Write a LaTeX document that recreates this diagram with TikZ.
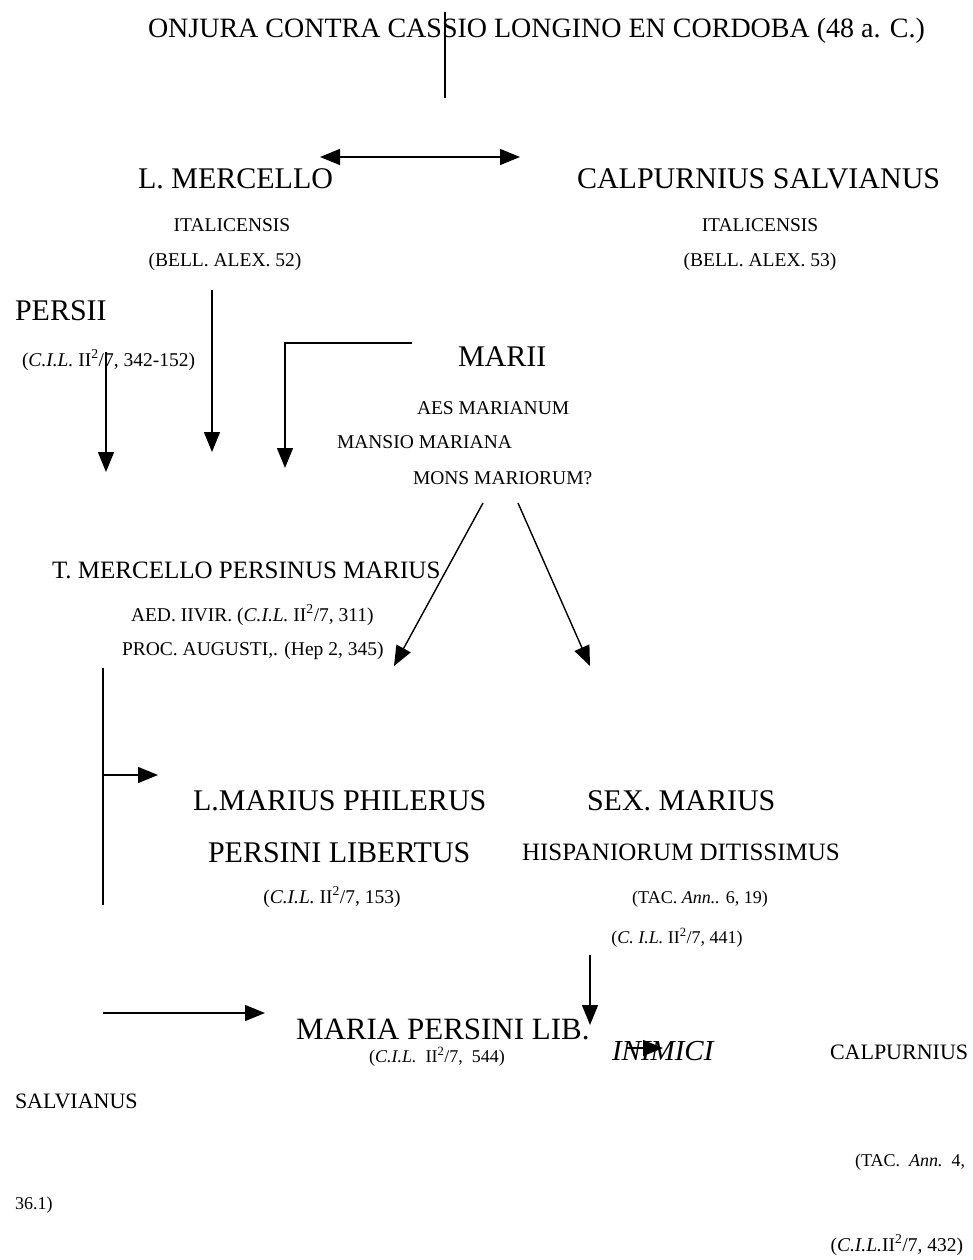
\documentclass[tikz,border=0pt]{standalone}
\usepackage{fontspec}
\setmainfont{Liberation Serif}
\usetikzlibrary{arrows.meta}
\newcommand{\cil}{\textit{C.I.L.}}
\newcommand{\sq}{\textsuperscript{2}}
\tikzset{
  txt/.style={inner sep=0pt, outer sep=0pt, anchor=base west},
  ctxt/.style={inner sep=0pt, outer sep=0pt, anchor=base},
  rtxt/.style={inner sep=0pt, outer sep=0pt, anchor=base east},
  big/.style={font=\fontsize{30}{36}\selectfont},
  ttl/.style={font=\fontsize{28}{34}\selectfont},
  mid/.style={font=\fontsize{25}{30}\selectfont},
  lab/.style={font=\fontsize{22}{27}\selectfont},
  sml/.style={font=\fontsize{19.5}{23}\selectfont},
  smll/.style={font=\fontsize{18}{22}\selectfont},
  conn/.style={line width=1.4pt},
  arr/.style={line width=1.4pt, -{Triangle[length=20pt,width=16pt]}},
  darr/.style={line width=1.4pt, {Triangle[length=20pt,width=16pt]}-{Triangle[length=20pt,width=16pt]}},
}
\begin{document}
\begin{tikzpicture}[x=1pt,y=-1pt]
\useasboundingbox (0,0) rectangle (973,1260);
% texts
\node[txt,ttl] (title) at (148,38) {ONJURA CONTRA CASSIO LONGINO EN CORDOBA (48 a. C.)};
\node[txt,big] (lmer) at (138,189) {L. MERCELLO};
\node[txt,big] (calp) at (577,189) {CALPURNIUS SALVIANUS};
\node[ctxt,sml] (ital1) at (232,231) {ITALICENSIS};
\node[ctxt,sml] (bell1) at (225,266) {(BELL. ALEX. 52)};
\node[ctxt,sml] (ital2) at (760,231) {ITALICENSIS};
\node[ctxt,sml] (bell2) at (760,266) {(BELL. ALEX. 53)};
\node[txt,big] (persii) at (15,320) {PERSII};
\node[txt,sml] (cilp) at (22,366) {(\cil{} II\sq/7, 342-152)};
\node[txt,big] (marii) at (458,366) {MARII};
\node[txt,sml] (aes) at (417,414) {AES MARIANUM};
\node[txt,sml] (mansio) at (337,448) {MANSIO MARIANA};
\node[txt,sml] (mons) at (413,484) {MONS MARIORUM?};
\node[txt,mid] (tmer) at (52,578) {T. MERCELLO PERSINUS MARIUS};
\node[txt,sml] (aed) at (131,621) {AED. IIVIR. (\cil{} II\sq/7, 311)};
\node[txt,sml] (proc) at (122,655) {PROC. AUGUSTI,. (Hep 2, 345)};
\node[txt,big] (lmar) at (193,810) {L.MARIUS PHILERUS};
\node[txt,big] (sex) at (587,810) {SEX. MARIUS};
\node[txt,big] (perlib) at (208,862) {PERSINI LIBERTUS};
\node[txt,mid] (hisp) at (522,860) {HISPANIORUM DITISSIMUS};
\node[ctxt,sml] (cil153) at (332,903) {(\cil{} II\sq/7, 153)};
\node[ctxt,smll] (tac6) at (700,903) {(TAC. \textit{Ann..} 6, 19)};
\node[ctxt,smll] (cil441) at (677,943) {(\textit{C. I.L.} II\sq/7, 441)};
\node[txt,big,font=\fontsize{31}{36}\selectfont] (maria) at (296,1039) {MARIA PERSINI LIB.};
\node[ctxt,smll] (cil544) at (437,1062) {(\cil{}\ \ II\sq/7,\ \ 544)};
\node[txt,font=\fontsize{29}{34}\selectfont\itshape] (inim) at (612,1060) {INIMICI};
\node[txt,lab] (calp2) at (830,1059) {CALPURNIUS};
\node[txt,lab] (salv) at (15,1108) {SALVIANUS};
\node[txt,smll] (tac4) at (855,1166) {(TAC.\hspace{9pt}\textit{Ann.}\hspace{9pt}4,};
\node[txt,smll] (n361) at (15,1209) {36.1)};
\node[rtxt,sml] (cil432) at (963,1251) {(\textit{C.I.L.}II\sq/7, 432)};
% coordinates
\coordinate (t1) at (445,12);
\coordinate (t2) at (445,98);
\coordinate (d1) at (320,157);
\coordinate (d2) at (520,157);
\coordinate (a1s) at (212,290);
\coordinate (a1e) at (212,452);
\coordinate (a2s) at (106,352);
\coordinate (a2e) at (106,472);
\coordinate (e1) at (412,343);
\coordinate (e2) at (285,343);
\coordinate (e3) at (285,468);
\coordinate (m1s) at (483,503);
\coordinate (m1e) at (394,666);
\coordinate (m2s) at (518,503);
\coordinate (m2e) at (590,666);
\coordinate (v1) at (103,668);
\coordinate (v2) at (103,905);
\coordinate (h1) at (103,775);
\coordinate (h2) at (158,775);
\coordinate (s1) at (590,955);
\coordinate (s2) at (590,1025);
\coordinate (b1) at (103,1013);
\coordinate (b2) at (265,1013);
\coordinate (i1) at (626,1048);
\coordinate (i2) at (663,1048);
% connectors
\draw[conn] (t1) -- (t2);
\draw[darr] (d1) -- (d2);
\draw[arr] (a1s) -- (a1e);
\draw[arr] (a2s) -- (a2e);
\draw[arr] (e1) -- (e2) -- (e3);
\draw[arr] (m1s) -- (m1e);
\draw[arr] (m2s) -- (m2e);
\draw[conn] (v1) -- (v2);
\draw[arr] (h1) -- (h2);
\draw[arr] (s1) -- (s2);
\draw[arr] (b1) -- (b2);
\draw[arr] (i1) -- (i2);
\end{tikzpicture}
\end{document}
